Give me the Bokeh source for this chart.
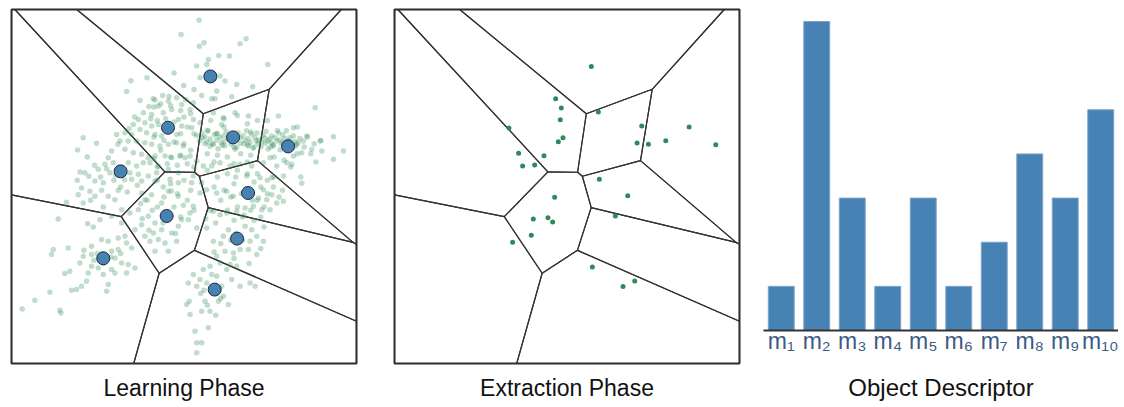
import numpy as np
from bokeh.plotting import figure
from bokeh.layouts import row
from bokeh.models import Range1d, FactorRange, Title
from bokeh.embed import file_html
from bokeh.resources import INLINE

# ---------------- data ----------------
# feature-space coordinates (x to the right, y downward, box = [33,1067] x [27,1090])
centroid_x = [629, 502, 697, 862, 360, 742, 498, 709, 308, 642]
centroid_y = [228, 382, 411, 438, 513, 578, 647, 715, 774, 868]

# learning-phase samples
learn_pts = [
    (541,102),(520,218),(439,232),(391,241),(378,273),(549,255),(458,295),(463,299),(486,285),(503,302),
    (528,292),(543,312),(513,327),(473,317),(488,337),(453,342),(428,337),(413,357),(433,367),(398,372),
    (453,377),(473,372),(533,357),(543,377),(528,402),(483,407),(463,402),(438,397),(418,387),(393,402),
    (373,397),(348,402),(358,422),(383,422),(408,422),(433,427),(453,432),(478,437),(503,432),(528,427),
    (548,437),(248,412),(288,429),(231,449),(333,452),(373,447),(398,457),(423,462),(443,472),(463,467),
    (493,467),(513,472),(538,467),(553,472),(323,472),(338,487),(313,492),(293,507),(328,517),(383,487),
    (408,497),(428,487),(448,487),(473,497),(253,517),(283,542),(308,547),(388,517),(413,522),(443,527),
    (468,517),(503,507),(533,517),(393,537),(423,542),(463,542),(508,537),(533,547),
    (595,59),(736,115),(718,130),(610,127),(596,137),(654,165),(686,167),(623,177),(588,197),(618,192),
    (801,192),(658,227),(673,242),(598,232),(708,252),(756,259),(580,267),(648,272),(603,285),(633,295),
    (643,295),(693,289),(578,307),(568,327),(943,322),(833,347),(638,337),(668,352),(703,337),(743,347),
    (663,372),(578,357),(573,382),(598,367),(878,382),(998,409),(1028,452),(998,477),(958,422),(963,452),
    (918,407),(933,447),(903,457),(888,432),(908,422),(878,467),(858,487),(873,492),(808,472),(828,497),
    (788,487),(753,497),(718,492),(688,497),(658,487),(633,497),(903,549),(848,527),(813,532),(778,532),
    (738,527),(568,467),(588,482),(608,497),(578,527),(603,547),(573,547),
    (603,398),(622,392),(647,399),(676,394),(712,397),(737,391),(768,398),(796,393),(833,397),(857,391),
    (588,405),(612,408),(641,403),(668,407),(693,404),(727,406),(752,401),(787,405),(813,407),(846,403),(878,406),
    (606,413),(628,416),(657,411),(682,414),(703,418),(718,412),(742,415),(762,411),(773,419),(792,413),
    (806,416),(823,412),(837,419),(852,414),(868,411),(897,414),
    (597,421),(619,425),(648,419),(671,423),(697,421),(733,420),(748,426),(767,422),(783,425),(801,421),
    (812,427),(829,422),(847,426),(863,420),(882,423),
    (613,430),(638,432),(662,428),(691,431),(719,429),(741,433),(772,430),(794,429),(817,433),(842,431),
    (857,429),(873,434),(892,428),
    (628,438),(672,436),(708,441),(743,437),(781,439),(818,436),(852,441),(884,438),
    (652,445),(703,447),(757,444),(802,446),(838,448),
    (243,563),(268,573),(303,570),(353,570),(323,588),(283,588),(248,608),(233,583),(198,606),(173,656),
    (261,670),(278,680),(308,620),(343,598),(363,628),(298,658),(333,648),(363,668),(388,638),(413,628),
    (433,598),(453,583),(423,578),(503,573),(533,588),(483,608),(443,648),(463,668),(423,673),(403,688),
    (433,708),(458,698),(483,688),(513,698),(533,678),(543,658),(528,723),(493,728),(473,718),(448,723),
    (463,753),(503,753),(303,718),(323,723),(353,713),(378,728),(373,708),(393,743),(353,748),(333,753),
    (273,738),(248,768),(273,763),(238,788),(273,798),(343,773),(363,788),(383,793),(403,803),(333,808),
    (308,823),(343,818),(378,818),(293,803),(263,818),(193,820),(208,813),(158,748),(153,763),(203,743),
    (258,843),(243,858),(323,853),(318,873),(213,870),(228,868),(148,876),(103,900),(65,926),(178,930),
    (181,938),(558,913),
    (598,578),(618,568),(648,578),(678,573),(698,588),(788,568),(813,583),(848,603),(828,608),(798,598),
    (773,593),(808,628),(783,628),(758,618),(733,623),(708,633),(678,638),(658,643),(638,633),(578,618),
    (568,638),(563,658),(588,683),(618,683),(638,723),(668,708),(683,688),(733,678),(753,688),(768,708),
    (788,723),(748,723),(743,748),(768,763),(718,748),(698,758),(673,753),(648,768),(658,788),(628,798),
    (608,808),(678,808),(688,793),(708,798),(693,838),(718,858),(748,848),(763,858),(663,858),(578,823),
    (563,848),(598,838),(588,858),(618,848),(633,823),(648,828),(613,903),(668,888),(683,913),(653,903),
    (628,933),(603,933),(568,943),(583,993),(588,1028),(603,1028),(588,1058),(623,983),(566,903),
    (460,320),(480,310),(510,315),(540,330),(550,350),(570,340),(470,360),(560,380),(540,400),(580,400),
    (460,410),(490,420),(520,425),(550,430),(570,450),(480,450),(510,470),(540,465),(460,475),(500,490),
    (530,495),(560,490),(580,500),(470,500),
    (630,360),(670,355),(710,345),(740,370),(770,360),(620,390),(650,400),(750,395),(635,430),(665,435),
    (700,440),(730,430),(760,440),(620,460),(650,465),(680,470),(720,460),(750,465),(640,485),(700,490),
    (740,485),(670,380),
    (800,360),(830,390),(890,380),(920,410),(940,430),(960,420),(910,440),(930,460),(945,485),(890,460),
    (810,440),(820,470),(850,480),(870,500),(900,530),(820,530),
    (620,510),(650,530),(680,520),(710,510),(740,520),(770,520),(800,540),(640,560),(670,570),(700,550),
    (780,560),(800,580),(690,590),(660,600),(770,600),(790,620),(710,620),(750,630),(680,630),(630,630),
    (730,645),(780,650),
    (470,540),(510,550),(550,540),(570,570),(530,580),(490,590),(560,600),(520,620),(580,630),(540,650),
    (470,620),
    (615,655),(645,668),(700,660),(725,650),(760,660),(790,680),(705,700),(725,720),(660,730),(690,720),
    (780,745),(640,755),(700,775),(745,790),
    (260,470),(300,530),(340,540),(360,560),(380,575),(270,600),(230,540),(410,555),(440,600),(420,610),
    (290,760),(310,790),(330,770),(360,760),(280,780),(250,750),
    (610,870),(640,860),(660,895),(600,880),(620,915),(645,945),
    (418,300),(445,318),(505,288),(555,298),(402,350),(385,385),(520,365),(495,355),(450,355),
    (352,432),(318,505),(265,528),(345,525),(372,538),(238,515),(282,495),(358,505),
    (488,560),(512,572),(455,630),(505,640),(548,615),(425,655),(487,668),(525,700),(445,690),
    (705,530),(735,565),(760,545),(722,580),(818,560),(835,590),(845,570),(755,600),
]
learn_x = [p[0] for p in learn_pts]
learn_y = [p[1] for p in learn_pts]

# extraction-phase samples
extract_x = [623,516,533,644,530,376,774,916,538,524,760,794,846,996,405,481,417,453,647,732,513,695,449,493,507,443,387,626,753,718]
extract_y = [198,295,323,335,358,383,377,380,412,424,428,432,421,433,459,466,497,494,537,586,591,647,656,652,665,705,726,800,842,859]

# object descriptor (histogram of visual words)
words = ["m\u2081", "m\u2082", "m\u2083", "m\u2084", "m\u2085", "m\u2086", "m\u2087", "m\u2088", "m\u2089", "m\u2081\u2080"]
counts = [1, 7, 3, 1, 3, 1, 2, 4, 3, 5]

BOX = (33, 1067, 27, 1090)
FONT = "Liberation Sans"
PAD = 8


def voronoi_cells(xs, ys, box):
    x0, x1, y0, y1 = box
    cells = []
    for i in range(len(xs)):
        poly = [(x0, y0), (x1, y0), (x1, y1), (x0, y1)]
        for j in range(len(xs)):
            if i == j:
                continue
            a = 2 * (xs[j] - xs[i]); b = 2 * (ys[j] - ys[i])
            c = xs[j] ** 2 + ys[j] ** 2 - xs[i] ** 2 - ys[i] ** 2
            out = []
            n = len(poly)
            for k in range(n):
                p = poly[k]; q = poly[(k + 1) % n]
                fp = a * p[0] + b * p[1] - c
                fq = a * q[0] + b * q[1] - c
                if fp <= 0:
                    out.append(p)
                if (fp < 0 < fq) or (fq < 0 < fp):
                    t = fp / (fp - fq)
                    out.append((p[0] + t * (q[0] - p[0]), p[1] + t * (q[1] - p[1])))
            poly = out
        cells.append(poly)
    return cells


cells = voronoi_cells(centroid_x, centroid_y, BOX)
cell_xs = [[pt[0] for pt in c] + [c[0][0]] for c in cells]
cell_ys = [[pt[1] for pt in c] + [c[0][1]] for c in cells]


def make_panel(title, border_left, border_right):
    p = figure(frame_width=345, frame_height=354, output_backend="svg", toolbar_location=None,
               x_range=Range1d(BOX[0], BOX[1]), y_range=Range1d(BOX[3], BOX[2]),
               x_axis_location=None, y_axis_location=None,
               min_border_left=border_left, min_border_right=border_right,
               min_border_top=1 + PAD, min_border_bottom=42)
    p.grid.visible = False
    p.outline_line_color = "#2b2b2b"
    p.outline_line_width = 2
    p.background_fill_color = "white"
    p.border_fill_color = "white"
    p.multi_line(cell_xs, cell_ys, line_color="#333333", line_width=1.2)
    t = Title(text=title, align="center", text_font=FONT, text_font_size="23px",
              text_font_style="normal", text_color="#111111", standoff=18)
    p.add_layout(t, "below")
    return p


p1 = make_panel("Learning Phase", 3 + PAD, 19)
p1.scatter(learn_x, learn_y, size=5.5, fill_color="#2e8b57", line_color=None, fill_alpha=0.3)
p1.scatter(centroid_x, centroid_y, size=13, fill_color="#4682b4", line_color="#1c2a38", line_width=1)

p2 = make_panel("Extraction Phase", 19, 12)
p2.scatter(extract_x, extract_y, size=5, fill_color="#2e8b57", line_color=None)

top_val = 7 * 321 / 309
p3 = figure(frame_width=355, frame_height=321, output_backend="svg", toolbar_location=None,
            x_range=FactorRange(factors=words, range_padding=0), y_range=Range1d(0, top_val),
            y_axis_location=None, min_border_left=12, min_border_right=0,
            min_border_top=1 + PAD, min_border_bottom=68)
p3.grid.visible = False
p3.outline_line_color = None
p3.vbar(x=words, top=counts, width=0.73, fill_color="#4682b4", line_color="#7ea4c8", line_width=1)
ax = p3.xaxis[0]
ax.axis_line_color = "#333333"
ax.axis_line_width = 2
ax.major_tick_line_color = None
ax.minor_tick_line_color = None
ax.major_label_text_font = FONT
ax.major_label_text_font_size = "23px"
ax.major_label_text_color = "#3b5b85"
ax.major_label_standoff = -9
ax.axis_label = "Object Descriptor"
ax.axis_label_text_font = FONT
ax.axis_label_text_font_size = "24px"
ax.axis_label_text_font_style = "normal"
ax.axis_label_text_color = "#111111"
ax.axis_label_standoff = 17

layout = row(p1, p2, p3)
open("out.html", "w").write(file_html(layout, INLINE))
